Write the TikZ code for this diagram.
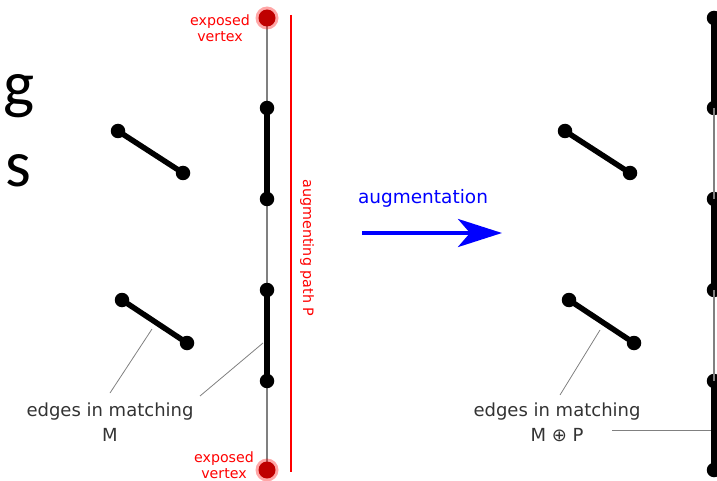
\documentclass[tikz,border=0pt]{standalone}
\usepackage{fontspec}
\setmainfont{DejaVu Sans}
\newfontfamily\calib{Carlito}
\usetikzlibrary{arrows.meta}
\begin{document}
\begin{tikzpicture}[x=1pt,y=-1pt,
  vtx/.style={circle,fill=black,inner sep=0pt,minimum size=14.5pt},
  evtx/.style={circle,fill=red!75!black,inner sep=0pt,minimum size=17pt},
  medge/.style={line width=5.5pt},
  pedge/.style={line width=2pt,draw=gray},
  leader/.style={draw=gray,line width=0.8pt},
  lbl/.style={font=\fontsize{18}{25}\selectfont,text=black!80,align=center,inner sep=0pt},
  exlbl/.style={font=\fontsize{14.2}{16.5}\selectfont,text=red,align=center,inner sep=0pt}]
\useasboundingbox (0,0) rectangle (717,481);
\clip (0,0) rectangle (717,481);
% big letters
\node[font=\calib\fontsize{66}{70}\selectfont,anchor=base west,inner sep=0pt] (g) at (3,107) {g};
\node[font=\calib\fontsize{66}{70}\selectfont,anchor=base west,inner sep=0pt] (s) at (5,186) {s};
% left path
\coordinate (t0) at (267,18);
\coordinate (b0) at (267,470);
\draw[pedge] (t0) -- (b0);
\node[vtx] (l1) at (267,108) {};
\node[vtx] (l2) at (267,199) {};
\node[vtx] (l3) at (267,290) {};
\node[vtx] (l4) at (267,381) {};
\draw[medge] (l1.center) -- (l2.center);
\draw[medge] (l3.center) -- (l4.center);
\fill[red,opacity=0.35] (t0) circle (11.5);
\fill[red,opacity=0.35] (b0) circle (11.5);
\node[evtx] (e1) at (t0) {};
\node[evtx] (e2) at (b0) {};
% red line
\coordinate (r1) at (291,15);
\coordinate (r2) at (291,472);
\draw[red,line width=2.4pt] (r1) -- (r2);
\node[rotate=-90,font=\fontsize{14.3}{16}\selectfont,text=red,inner sep=0pt] (aug) at (307,248) {augmenting path P};
\node[exlbl] (ex1) at (220,28) {exposed\\vertex};
\node[exlbl] (ex2) at (224,465) {exposed\\vertex};
% left isolated edges
\node[vtx] (a1) at (118,131) {};
\node[vtx] (a2) at (183,173) {};
\draw[medge] (a1.center) -- (a2.center);
\node[vtx] (c1) at (122,300) {};
\node[vtx] (c2) at (187,343) {};
\draw[medge] (c1.center) -- (c2.center);
\node[lbl] (lab1) at (110,422) {edges in matching\\M};
\coordinate (ld1) at (110,393);
\coordinate (ld1e) at (152,329);
\coordinate (ld2) at (200,396);
\coordinate (ld2e) at (263,343);
\draw[leader] (ld1) -- (ld1e);
\draw[leader] (ld2) -- (ld2e);
% arrow
\node[font=\fontsize{18.5}{20}\selectfont,text=blue,inner sep=0pt] (augt) at (423,198) {augmentation};
\coordinate (ar1) at (362,233);
\coordinate (ar2) at (502,233);
\draw[blue,line width=4.5pt,-{Stealth[length=44pt,width=28pt,inset=12pt]}] (ar1) -- (ar2);
% right isolated edges
\node[vtx] (ra1) at (565,131) {};
\node[vtx] (ra2) at (630,173) {};
\draw[medge] (ra1.center) -- (ra2.center);
\node[vtx] (rc1) at (569,300) {};
\node[vtx] (rc2) at (634,343) {};
\draw[medge] (rc1.center) -- (rc2.center);
% right path
\node[vtx] (p0) at (714,18) {};
\node[vtx] (p1) at (714,108) {};
\node[vtx] (p2) at (714,199) {};
\node[vtx] (p3) at (714,290) {};
\node[vtx] (p4) at (714,381) {};
\node[vtx] (p5) at (714,470) {};
\draw[pedge] (p1.center) -- (p2.center);
\draw[pedge] (p3.center) -- (p4.center);
\draw[medge] (p0.center) -- (p1.center);
\draw[medge] (p2.center) -- (p3.center);
\draw[medge] (p4.center) -- (p5.center);
\node[lbl] (lab2) at (557,422) {edges in matching\\M ⊕ P};
\coordinate (rl1) at (560,395);
\coordinate (rl1e) at (600,330);
\coordinate (rl2) at (612,430);
\coordinate (rl2e) at (711,430);
\draw[leader] (rl1) -- (rl1e);
\draw[leader] (rl2) -- (rl2e);
\end{tikzpicture}
\end{document}
